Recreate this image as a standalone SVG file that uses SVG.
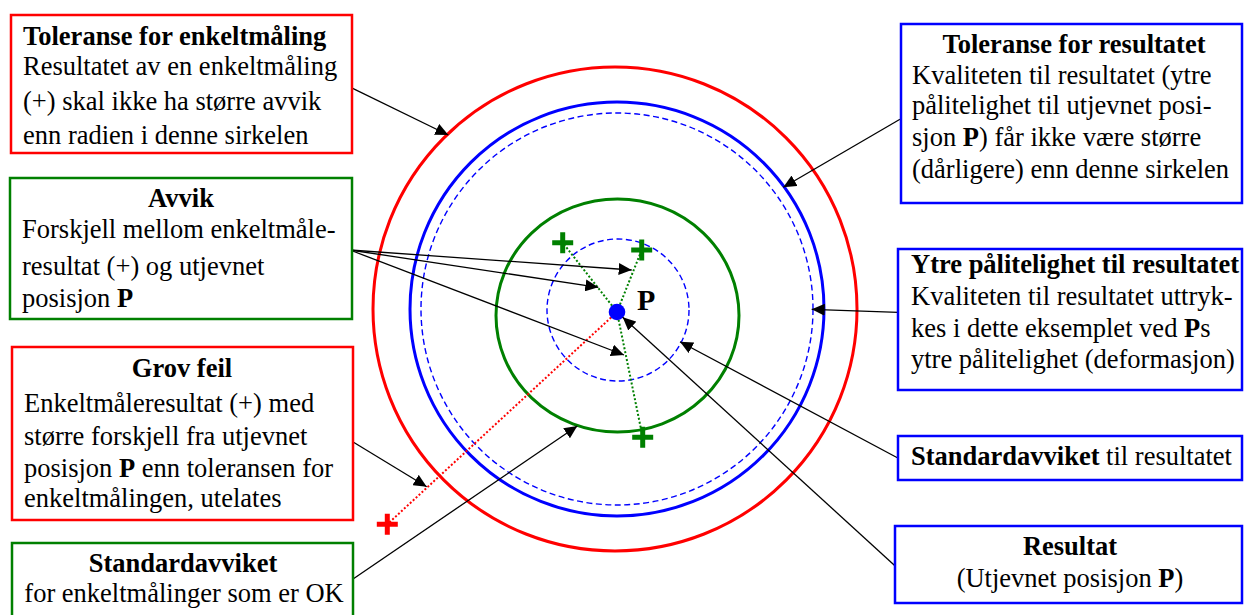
<svg xmlns="http://www.w3.org/2000/svg" width="1244" height="615" viewBox="0 0 1244 615">
<defs>
<style>
text{font-family:"Liberation Serif","Times New Roman",serif;font-size:26.5px;fill:#000}
.b{font-weight:bold}
.mid{text-anchor:middle}
.box{fill:#fff;stroke-width:2.5}
.red{stroke:#ff0000}
.blue{stroke:#0000ff}
.green{stroke:#008000}
.ring{fill:none}
.dash{fill:none;stroke:#0000ff;stroke-width:1.4;stroke-dasharray:6,3.5}
.dot{stroke-width:2;stroke-dasharray:2,2;fill:none}
.cross{stroke-width:5;fill:none}
#connectors line{stroke:#000;stroke-width:1.3;marker-end:url(#arr)}
</style>
<marker id="arr" markerWidth="14" markerHeight="12" refX="13" refY="6" orient="auto" markerUnits="userSpaceOnUse"><path d="M0,0 L13,6 L0,12 z" fill="#000"/></marker>
<path id="plus" d="M-10.5,0 H10.5 M0,-10.5 V10.5"/>
</defs>
<rect width="1244" height="615" fill="#fff"/>

<g id="circles">
<circle class="ring red" cx="615" cy="309" r="242" stroke-width="3"/>
<circle class="ring blue" cx="617" cy="309" r="207" stroke-width="3"/>
<circle class="dash" cx="617" cy="309" r="196"/>
<ellipse class="ring green" cx="617.5" cy="315.5" rx="121.5" ry="116.5" stroke-width="3"/>
<circle class="dash" cx="618" cy="310" r="71"/>
</g>

<g id="measurements">
<line class="dot green" x1="617" y1="312" x2="562.7" y2="242.7"/>
<line class="dot green" x1="617" y1="312" x2="641.7" y2="250"/>
<line class="dot green" x1="617" y1="312" x2="642.7" y2="437.3"/>
<line class="dot red" x1="617" y1="312" x2="387.3" y2="524.3"/>
<use href="#plus" class="cross green" x="562.7" y="242.7"/>
<use href="#plus" class="cross green" x="641.7" y="250"/>
<use href="#plus" class="cross green" x="642.7" y="437.3"/>
<use href="#plus" class="cross red" x="387.3" y="524.3"/>
</g>

<g id="pointP">
<circle cx="617" cy="312" r="8.3" fill="#0000ff"/>
<text x="637" y="310" class="b" style="font-size:30px">P</text>
</g>

<g id="connectors">
<line x1="352.7" y1="88.3" x2="448.3" y2="135"/>
<line x1="900" y1="119.3" x2="783.3" y2="187.3"/>
<line x1="350" y1="250" x2="631.7" y2="270"/>
<line x1="350" y1="250" x2="598.3" y2="287.3"/>
<line x1="350" y1="250" x2="624" y2="355"/>
<line x1="898.3" y1="312.3" x2="811.7" y2="309.3"/>
<line x1="898.3" y1="458.3" x2="680" y2="341.7"/>
<line x1="896" y1="566.7" x2="622.7" y2="317.3"/>
<line x1="352.7" y1="441.7" x2="426.7" y2="486.7"/>
<line x1="352.7" y1="579.3" x2="577.3" y2="426"/>
</g>

<g id="tol-enkelt">
<rect class="box red" x="11" y="15" width="341" height="138"/>
<text x="23" y="45" class="b">Toleranse for enkeltmåling</text>
<text x="23" y="75">Resultatet av en enkeltmåling</text>
<text x="23" y="110">(+) skal ikke ha større avvik</text>
<text x="23" y="144">enn radien i denne sirkelen</text>
</g>

<g id="tol-resultat">
<rect class="box blue" x="901" y="24" width="341" height="179"/>
<text x="1074" y="53" class="b mid">Toleranse for resultatet</text>
<text x="912" y="84">Kvaliteten til resultatet (ytre</text>
<text x="912" y="114">pålitelighet til utjevnet posi-</text>
<text x="912" y="146">sjon <tspan class="b">P</tspan>) får ikke være større</text>
<text x="912" y="178">(dårligere) enn denne sirkelen</text>
</g>

<g id="avvik">
<rect class="box green" x="10" y="178" width="342" height="141"/>
<text x="181" y="207" class="b mid">Avvik</text>
<text x="22" y="238">Forskjell mellom enkeltmåle-</text>
<text x="22" y="275">resultat (+) og utjevnet</text>
<text x="22" y="307">posisjon <tspan class="b">P</tspan></text>
</g>

<g id="ytre">
<rect class="box blue" x="898" y="249" width="344" height="141"/>
<text x="911" y="273" class="b">Ytre pålitelighet til resultatet</text>
<text x="911" y="305">Kvaliteten til resultatet uttryk-</text>
<text x="911" y="337">kes i dette eksemplet ved <tspan class="b">P</tspan>s</text>
<text x="911" y="368">ytre pålitelighet (deformasjon)</text>
</g>

<g id="grov-feil">
<rect class="box red" x="12" y="347" width="341" height="173"/>
<text x="182" y="377" class="b mid">Grov feil</text>
<text x="24" y="412">Enkeltmåleresultat (+) med</text>
<text x="24" y="445">større forskjell fra utjevnet</text>
<text x="24" y="477">posisjon <tspan class="b">P</tspan> enn toleransen for</text>
<text x="24" y="507">enkeltmålingen, utelates</text>
</g>

<g id="std-resultat">
<rect class="box blue" x="898" y="436" width="344" height="44"/>
<text x="911" y="465"><tspan class="b">Standardavviket</tspan> til resultatet</text>
</g>

<g id="resultat">
<rect class="box blue" x="895" y="526" width="347" height="77"/>
<text x="1070" y="555" class="b mid">Resultat</text>
<text x="1070" y="587" class="mid">(Utjevnet posisjon <tspan class="b">P</tspan>)</text>
</g>

<g id="std-enkelt">
<rect class="box green" x="12" y="543" width="341" height="80"/>
<text x="183" y="572" class="b mid">Standardavviket</text>
<text x="184" y="602" class="mid">for enkeltmålinger som er OK</text>
</g>
</svg>
